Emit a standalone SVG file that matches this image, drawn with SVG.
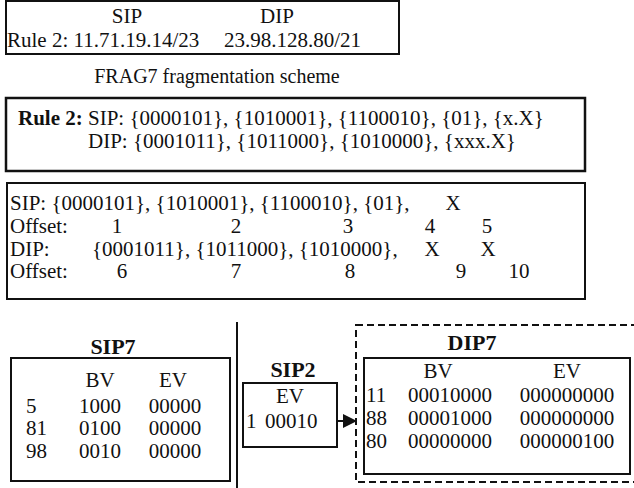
<svg xmlns="http://www.w3.org/2000/svg" width="634" height="488" viewBox="0 0 634 488">
<defs>
<style>
text{font-family:"Liberation Serif","Times New Roman",serif;font-size:21px;fill:#111}
.t{font-size:20px}
.b{font-weight:bold}
.lb{font-weight:bold;font-size:22px}
.c{text-anchor:middle}
.box{fill:#fff;stroke:#111;stroke-width:2}
.dash{fill:none;stroke:#111;stroke-width:2;stroke-dasharray:7,4}
.ln{stroke:#111;stroke-width:2;fill:none}
</style>
<marker id="arr" markerWidth="14" markerHeight="14" refX="14" refY="7" orient="auto" markerUnits="userSpaceOnUse"><path d="M0,0 L14,7 L0,14 Z" fill="#111"/></marker>
</defs>
<rect width="634" height="488" fill="#fff"/>

<g id="rule-ip">
<rect class="box" x="6" y="1" width="393" height="53"/>
<text class="c" x="127" y="23">SIP</text>
<text class="c" x="277" y="23">DIP</text>
<text x="7" y="47">Rule 2: 11.71.19.14/23</text>
<text x="224" y="47">23.98.128.80/21</text>
</g>

<g id="title">
<text class="c t" x="217" y="83">FRAG7 fragmentation scheme</text>
</g>

<g id="rule-frag">
<rect class="box" x="6" y="98" width="579" height="73" style="stroke-width:2.5"/>
<text x="18" y="125"><tspan class="b">Rule 2:</tspan> SIP: {0000101}, {1010001}, {1100010}, {01}, {x.X}</text>
<text x="88" y="148">DIP: {0001011}, {1011000}, {1010000}, {xxx.X}</text>
</g>

<g id="offsets">
<rect class="box" x="7" y="183" width="578" height="116"/>
<text x="10" y="210">SIP: {0000101}, {1010001}, {1100010}, {01},</text>
<text class="c" x="453" y="210">X</text>
<text x="10" y="233">Offset:</text>
<text class="c" x="117" y="233">1</text>
<text class="c" x="236" y="233">2</text>
<text class="c" x="348" y="233">3</text>
<text class="c" x="430" y="233">4</text>
<text class="c" x="487" y="233">5</text>
<text x="10" y="256">DIP:</text>
<text x="92" y="256">{0001011}, {1011000}, {1010000},</text>
<text class="c" x="432" y="256">X</text>
<text class="c" x="488" y="256">X</text>
<text x="10" y="278">Offset:</text>
<text class="c" x="122" y="278">6</text>
<text class="c" x="236" y="278">7</text>
<text class="c" x="350" y="278">8</text>
<text class="c" x="461" y="278">9</text>
<text class="c" x="519" y="278">10</text>
</g>

<g id="divider">
<line class="ln" x1="237" y1="322" x2="237" y2="488"/>
</g>

<g id="sip7">
<text class="c lb" x="113" y="354">SIP7</text>
<rect class="box" x="11" y="358" width="219" height="123"/>
<text class="c" x="100" y="387">BV</text>
<text class="c" x="173" y="387">EV</text>
<text x="26" y="413">5</text>
<text class="c" x="100" y="413">1000</text>
<text class="c" x="175" y="413">00000</text>
<text x="26" y="435">81</text>
<text class="c" x="100" y="435">0100</text>
<text class="c" x="175" y="435">00000</text>
<text x="26" y="458">98</text>
<text class="c" x="100" y="458">0010</text>
<text class="c" x="175" y="458">00000</text>
</g>

<g id="sip2">
<text class="c lb" x="293" y="377">SIP2</text>
<rect class="box" x="243" y="383" width="94" height="64"/>
<text class="c" x="290" y="403">EV</text>
<text x="246" y="428">1</text>
<text x="265" y="428">00010</text>
</g>

<g id="dip7">
<rect class="dash" x="356" y="325" width="300" height="157"/>
<text class="c lb" x="472" y="350">DIP7</text>
<rect class="box" x="364" y="358" width="266" height="116"/>
<text class="c" x="438" y="378">BV</text>
<text class="c" x="567" y="378">EV</text>
<text x="366" y="402">11</text>
<text class="c" x="450" y="402">00010000</text>
<text class="c" x="567" y="402">000000000</text>
<text x="366" y="425">88</text>
<text class="c" x="450" y="425">00001000</text>
<text class="c" x="567" y="425">000000000</text>
<text x="366" y="448">80</text>
<text class="c" x="450" y="448">00000000</text>
<text class="c" x="567" y="448">000000100</text>
</g>

<g id="connectors">
<line class="ln" x1="337" y1="421" x2="357" y2="421" marker-end="url(#arr)"/>
</g>
</svg>
